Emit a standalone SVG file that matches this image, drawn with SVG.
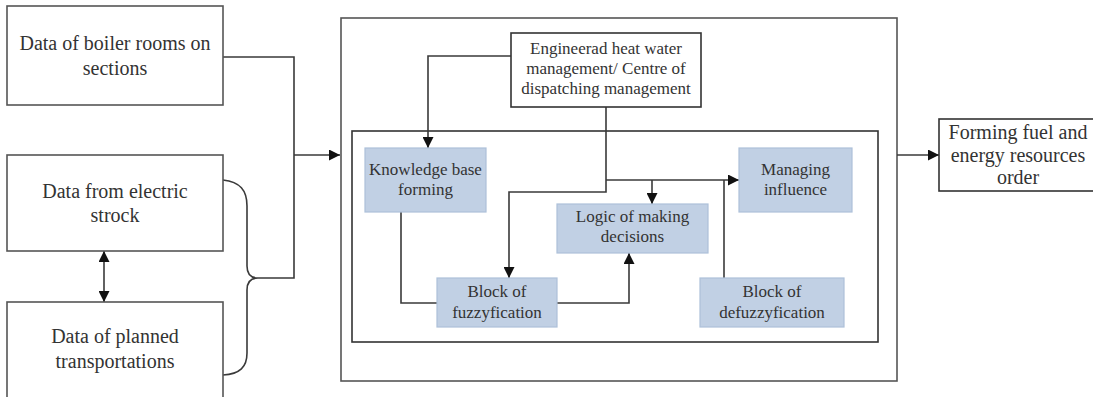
<svg xmlns="http://www.w3.org/2000/svg" width="1093" height="397" viewBox="0 0 1093 397">
<defs>
<style>
.box{fill:#fff;stroke:#555;stroke-width:1.6}
.frame{fill:none;stroke:#555;stroke-width:1.6}
.blue{fill:#c1d0e4;stroke:#adc0d9;stroke-width:1.2}
.ln{fill:none;stroke:#3a3a3a;stroke-width:1.6}
.t{fill:#333;text-anchor:middle}
.l{font-size:20px}
.m{font-size:17px}
.o{font-size:20px}
</style>
<marker id="ah" viewBox="0 0 10 10" refX="10" refY="5" markerWidth="11" markerHeight="11" markerUnits="userSpaceOnUse" orient="auto-start-reverse">
<path d="M0,0 L10,5 L0,10 z" fill="#111"/>
</marker>
</defs>
<rect width="1093" height="397" fill="#fff"/>
<g id="outer-box"><rect class="frame" x="341" y="18" width="556" height="363"/></g>
<g id="inner-box"><rect class="frame" x="352" y="131" width="526" height="211" style="stroke:#333"/></g>
<g id="connectors">
<path class="ln" d="M223,57 H294 V278 H258"/>
<path class="ln" d="M223,180 C240,182 247,190 247,206 L247,266 C247,274 251,278 258,278 C251,278 247,282 247,290 L247,353 C247,367 240,374 223,375"/>
<path class="ln" d="M294,155 H340" marker-end="url(#ah)"/>
<path class="ln" d="M104,251 V302" marker-start="url(#ah)" marker-end="url(#ah)"/>
<path class="ln" d="M511,56 H428 V148" marker-end="url(#ah)"/>
<path class="ln" d="M606,107 V192 H509 V278" marker-end="url(#ah)"/>
<path class="ln" d="M606,180 H739" marker-end="url(#ah)"/>
<path class="ln" d="M652,180 V204" marker-end="url(#ah)"/>
<path class="ln" d="M724,278 V180"/>
<path class="ln" d="M401,212 V303 H437"/>
<path class="ln" d="M557,303 H629 V253" marker-end="url(#ah)"/>
<path class="ln" d="M897,155 H939" marker-end="url(#ah)"/>
</g>
<g font-family="Liberation Serif, DejaVu Serif, serif">
<g id="n-boiler">
<rect class="box" x="7" y="6" width="216" height="99"/>
<text class="t l" x="115" y="50">Data of boiler rooms on</text>
<text class="t l" x="115" y="75">sections</text>
</g>
<g id="n-electric">
<rect class="box" x="7" y="155" width="216" height="96"/>
<text class="t l" x="115" y="198">Data from electric</text>
<text class="t l" x="115" y="222">strock</text>
</g>
<g id="n-planned">
<rect class="box" x="7" y="302" width="216" height="110"/>
<text class="t l" x="115" y="343">Data of planned</text>
<text class="t l" x="115" y="368">transportations</text>
</g>
<g id="n-engineered">
<rect class="box" x="511" y="33" width="190" height="74" style="stroke:#333"/>
<text class="t m" x="606" y="54">Engineerad heat water</text>
<text class="t m" x="606" y="74">management/ Centre of</text>
<text class="t m" x="606" y="94">dispatching management</text>
</g>
<g id="n-knowledge">
<rect class="blue" x="365" y="148" width="121" height="64"/>
<text class="t m" x="425.5" y="175">Knowledge base</text>
<text class="t m" x="425.5" y="195">forming</text>
</g>
<g id="n-logic">
<rect class="blue" x="557" y="204" width="151" height="49"/>
<text class="t m" x="632.5" y="222">Logic of making</text>
<text class="t m" x="632.5" y="242">decisions</text>
</g>
<g id="n-managing">
<rect class="blue" x="739" y="148" width="113" height="64"/>
<text class="t m" x="795.5" y="175">Managing</text>
<text class="t m" x="795.5" y="195">influence</text>
</g>
<g id="n-fuzzy">
<rect class="blue" x="437" y="278" width="120" height="49"/>
<text class="t m" x="497" y="297">Block of</text>
<text class="t m" x="497" y="318">fuzzyfication</text>
</g>
<g id="n-defuzzy">
<rect class="blue" x="700" y="278" width="144" height="49"/>
<text class="t m" x="772" y="297">Block of</text>
<text class="t m" x="772" y="318">defuzzyfication</text>
</g>
<g id="n-output">
<rect class="box" x="939" y="119" width="160" height="72" style="stroke:#333"/>
<text class="t o" x="1018" y="139">Forming fuel and</text>
<text class="t o" x="1018" y="162">energy resources</text>
<text class="t o" x="1018" y="184">order</text>
</g>
</g>
</svg>
